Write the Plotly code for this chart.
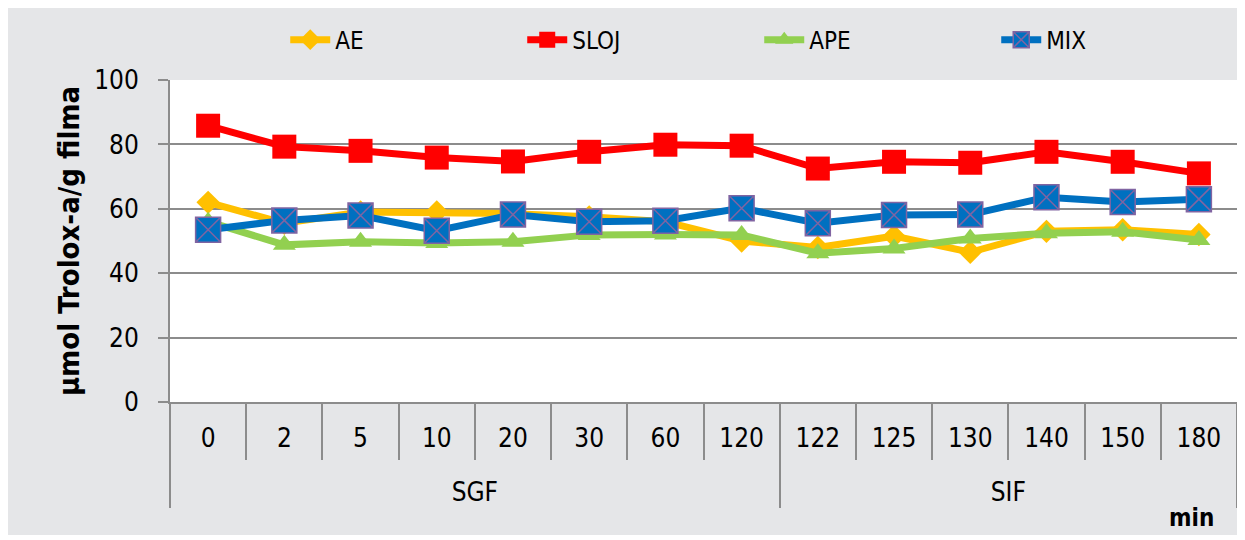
import plotly.graph_objects as go

# x categories: phase and time (min)
phase = ["SGF"] * 8 + ["SIF"] * 6
minutes = ["0", "2", "5", "10", "20", "30", "60", "120",
           "122", "125", "130", "140", "150", "180"]

# antioxidant capacity, umol Trolox / g film
ae = [62.0, 55.5, 59.0, 59.0, 58.5, 57.5, 56.0, 50.0, 48.0, 51.5, 46.5, 53.0, 53.5, 52.0]
sloj = [85.8, 79.3, 78.0, 75.9, 74.7, 77.7, 79.9, 79.6, 72.5, 74.6, 74.3, 77.7, 74.6, 71.0]
ape = [56.0, 48.8, 49.8, 49.4, 49.8, 51.9, 52.0, 51.9, 46.2, 47.7, 50.8, 52.4, 52.9, 50.3]
mix = [53.5, 56.4, 57.9, 53.2, 58.2, 56.0, 56.3, 60.2, 55.5, 58.1, 58.2, 63.6, 62.1, 63.0]

FONT = "DejaVu Sans Condensed, Tahoma, DejaVu Sans, sans-serif"
GRID = "#8c8c8c"

# empty first line pushes the group row further below the minute labels
x = [[" <br>" + p for p in phase], minutes]

fig = go.Figure()

fig.add_trace(go.Scatter(
    x=x, y=ae, name="AE", mode="lines+markers",
    line=dict(color="#FFC000", width=7),
    marker=dict(symbol="diamond", size=18, color="#FFC000")
))
fig.add_trace(go.Scatter(
    x=x, y=sloj, name="SLOJ", mode="lines+markers",
    line=dict(color="#FF0000", width=7),
    marker=dict(symbol="square", size=24, color="#FF0000")
))
fig.add_trace(go.Scatter(
    x=x, y=ape, name="APE", mode="lines+markers",
    line=dict(color="#92D050", width=7),
    marker=dict(symbol="triangle-up", size=20, color="#92D050")
))
fig.add_trace(go.Scatter(
    x=x, y=mix, name="MIX", mode="lines+markers",
    line=dict(color="#0070C0", width=7),
    marker=dict(symbol="square-x", size=25, color="#0070C0",
                line=dict(color="#8064A2", width=1.5))
))

fig.update_layout(
    width=1229, height=527,
    margin=dict(l=162, r=0, t=72, b=133),
    paper_bgcolor="#e5e6e8",
    plot_bgcolor="#ffffff",
    font=dict(family=FONT, size=26, color="#000000"),
    showlegend=True,
    legend=dict(
        orientation="h", x=0.108, xanchor="left", y=1.124, yanchor="middle",
        font=dict(size=24), entrywidth=182, entrywidthmode="pixels",
        bgcolor="rgba(0,0,0,0)", itemwidth=40
    ),
    annotations=[
        dict(text="<b>min</b>", x=0.98, xref="paper", xanchor="right",
             y=-0.36, yref="paper", yanchor="middle", showarrow=False,
             font=dict(size=24, family=FONT))
    ]
)

fig.update_xaxes(
    type="multicategory", range=[-0.5, 13.5],
    tickson="boundaries", ticks="outside", ticklen=56,
    tickcolor=GRID, tickwidth=2,
    showline=True, linecolor=GRID, linewidth=2,
    showdividers=True, dividercolor=GRID, dividerwidth=2,
    showgrid=False, tickfont=dict(size=26), ticklabelstandoff=12
)
fig.update_yaxes(
    range=[0, 100], dtick=20,
    showgrid=True, gridcolor=GRID, gridwidth=2,
    showline=True, linecolor=GRID, linewidth=2,
    ticks="outside", ticklen=10, tickcolor=GRID, tickwidth=2,
    zeroline=False, tickfont=dict(size=26), ticklabelstandoff=14,
    title=dict(text="<b>µmol Trolox-a/g filma</b>", font=dict(size=29), standoff=6)
)

fig.write_html("out.html")
